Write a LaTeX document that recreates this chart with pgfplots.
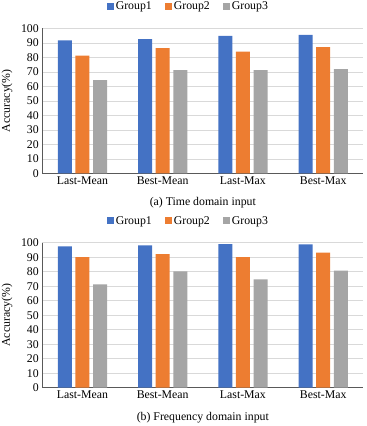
\documentclass[border=0pt]{standalone}
\usepackage{fontspec}
\setmainfont{Liberation Serif}
\usepackage{pgfplots}
\pgfplotsset{compat=1.18}
\definecolor{gblue}{HTML}{4472C4}
\definecolor{gorange}{HTML}{ED7D31}
\definecolor{ggray}{HTML}{A5A5A5}
\definecolor{gridc}{HTML}{D9D9D9}
\definecolor{axc}{HTML}{595959}

\pgfplotsset{
  accstyle/.style={
    scale only axis, width=321pt, height=145pt,
    ybar=3.6pt, bar width=14pt,
    xmin=-0.5, xmax=3.5, ymin=0, ymax=100,
    xtick={0,1,2,3},
    xticklabels={Last-Mean,Best-Mean,Last-Max,Best-Max},
    ytick={0,10,...,100},
    major tick length=0pt,
    axis x line*=bottom, axis y line*=left,
    axis line style={axc, line width=0.8pt},
    ymajorgrids, grid style={gridc, line width=0.6pt},
    /pgf/number format/assume math mode=true,
    tick label style={font=\fontsize{11.8}{13}\selectfont},
    label style={font=\fontsize{11.8}{13}\selectfont},
    ylabel={Accuracy(\%)},
    ylabel style={at={(axis description cs:-0.11,0.5)}, anchor=center},
    xlabel style={at={(axis description cs:0.5,-0.205)}, anchor=center},
    legend columns=3,
    legend style={at={(0.455,1.15)}, anchor=center, draw=none,
      font=\fontsize{11.8}{13}\selectfont,
      /tikz/every even column/.append style={column sep=11pt}},
    legend image code/.code={\fill[#1] (0pt,-3.5pt) rectangle (7pt,3.5pt);},
  }
}

\begin{document}
\begin{tikzpicture}
\path[use as bounding box] (-42.3pt,-252.7pt) rectangle (324.7pt,173.3pt);

% (a) time domain
\begin{axis}[accstyle, xlabel={(a) Time domain input}]
\addplot[fill=gblue, draw=none] coordinates {(0,91.7) (1,92.6) (2,94.7) (3,95.4)};
\addplot[fill=gorange, draw=none] coordinates {(0,81.1) (1,86.4) (2,83.9) (3,87.1)};
\addplot[fill=ggray, draw=none] coordinates {(0,64.3) (1,71.2) (2,71.2) (3,71.9)};
\legend{Group1,Group2,Group3}
\end{axis}

% (b) frequency domain
\begin{axis}[accstyle, yshift=-214.4pt, xlabel={(b) Frequency domain input}]
\addplot[fill=gblue, draw=none] coordinates {(0,97.5) (1,98.2) (2,99.1) (3,98.9)};
\addplot[fill=gorange, draw=none] coordinates {(0,90.1) (1,92.2) (2,90.1) (3,93.1)};
\addplot[fill=ggray, draw=none] coordinates {(0,71.3) (1,80.2) (2,74.7) (3,80.7)};
\legend{Group1,Group2,Group3}
\end{axis}
\end{tikzpicture}
\end{document}
